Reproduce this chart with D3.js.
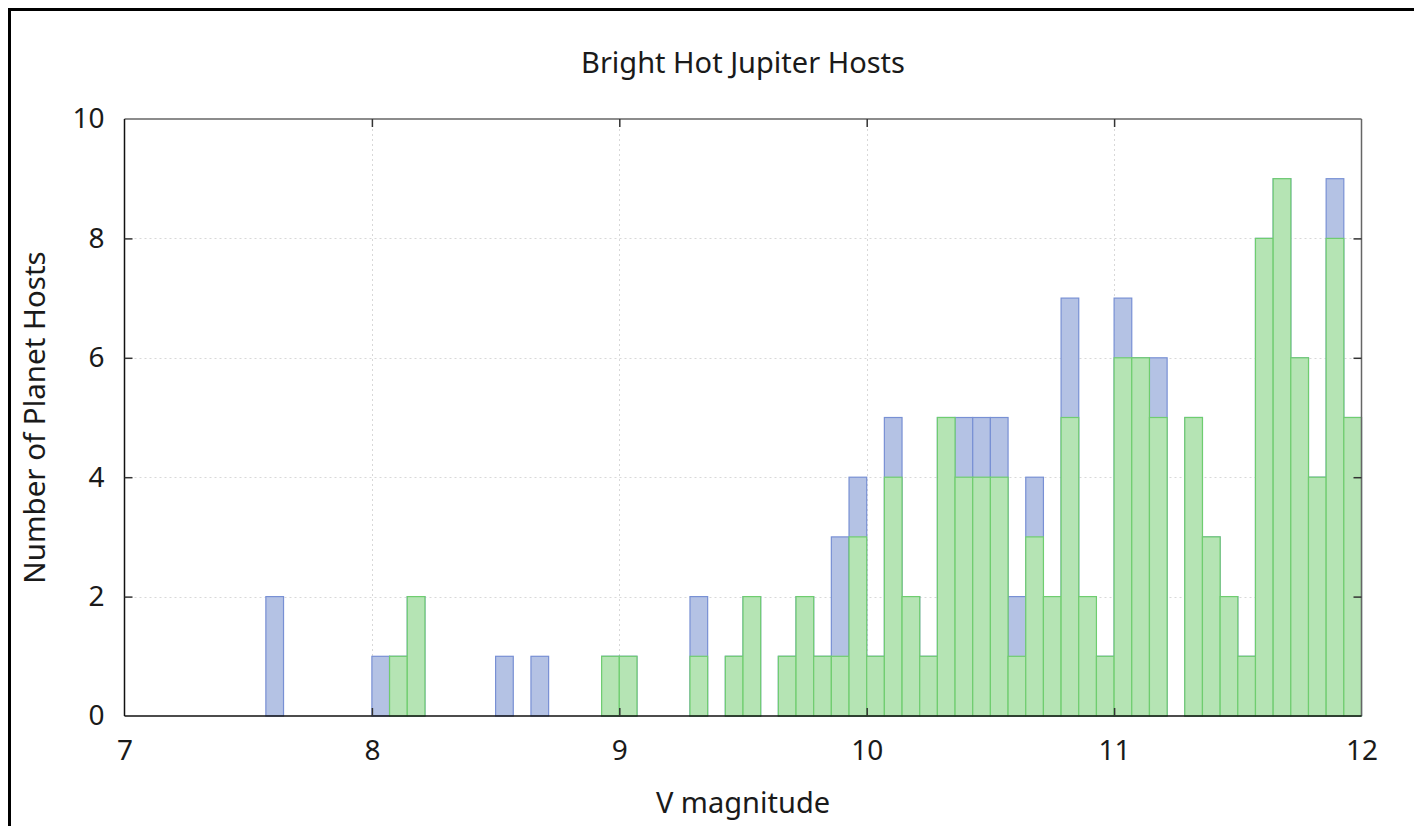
<!DOCTYPE html>
<html>
<head>
<meta charset="utf-8">
<script src="https://cdn.jsdelivr.net/npm/d3@7"></script>
<style>
  html, body { margin: 0; padding: 0; background: #fff; }
  svg { display: block; }
  text { font-family: "Noto Sans", "Open Sans", sans-serif; fill: #1a1a1a; }
</style>
</head>
<body>
<svg id="chart" width="1414" height="826"></svg>
<script>
// Histogram bins: lower edge of each non-empty bin (V magnitude), width 1/14 mag
const binWidth = 1 / 14;
const binStart = [
  7.5714, 8.0, 8.0714, 8.1429, 8.5, 8.6429, 8.9286, 9.0, 9.2857, 9.4286,
  9.5, 9.6429, 9.7143, 9.7857, 9.8571, 9.9286, 10.0, 10.0714, 10.1429, 10.2143,
  10.2857, 10.3571, 10.4286, 10.5, 10.5714, 10.6429, 10.7143, 10.7857, 10.8571, 10.9286,
  11.0, 11.0714, 11.1429, 11.2857, 11.3571, 11.4286, 11.5, 11.5714, 11.6429, 11.7143,
  11.7857, 11.8571, 11.9286
];
// All hosts per bin (blue)
const allHosts = [
  2, 1, 1, 2, 1, 1, 1, 1, 2, 1,
  2, 1, 2, 1, 3, 4, 1, 5, 2, 1,
  5, 5, 5, 5, 2, 4, 2, 7, 2, 1,
  7, 6, 6, 5, 3, 2, 1, 8, 9, 6,
  4, 9, 5
];
// Subset of hosts per bin (green)
const subsetHosts = [
  0, 0, 1, 2, 0, 0, 1, 1, 1, 1,
  2, 1, 2, 1, 1, 3, 1, 4, 2, 1,
  5, 4, 4, 4, 1, 3, 2, 5, 2, 1,
  6, 6, 5, 5, 3, 2, 1, 8, 9, 6,
  4, 8, 5
];
const xTicks = [7, 8, 9, 10, 11, 12];
const yTicks = [0, 2, 4, 6, 8, 10];

const svg = d3.select("#chart");
const W = 1414, H = 826;
const pLeft = 124.5, pRight = 1361.5, pTop = 119, pBottom = 716;

// outer frame
svg.append("rect")
  .attr("x", 9.5).attr("y", 9.5)
  .attr("width", W + 20).attr("height", H + 20)
  .attr("fill", "none").attr("stroke", "#000").attr("stroke-width", 3);

const x = d3.scaleLinear().domain([7, 12]).range([pLeft, pRight]);
const y = d3.scaleLinear().domain([0, 10]).range([pBottom, pTop]);

// grid
const grid = svg.append("g").attr("stroke", "#d8d8d8").attr("stroke-width", 1)
  .attr("stroke-dasharray", "2,3");
grid.selectAll("line.gx").data(xTicks.slice(1, -1)).join("line")
  .attr("x1", d => Math.round(x(d)) + 0.5).attr("x2", d => Math.round(x(d)) + 0.5)
  .attr("y1", pTop).attr("y2", pBottom);
grid.selectAll("line.gy").data(yTicks.slice(1, -1)).join("line")
  .attr("x1", pLeft).attr("x2", pRight)
  .attr("y1", d => Math.round(y(d)) + 0.5).attr("y2", d => Math.round(y(d)) + 0.5);

const bins = binStart.map((s, i) => ({ s, all: allHosts[i], sub: subsetHosts[i] }));

// blue bars: all hosts
svg.append("g").selectAll("rect").data(bins.filter(d => d.all > 0)).join("rect")
  .attr("x", d => x(d.s))
  .attr("width", d => x(d.s + binWidth) - x(d.s))
  .attr("y", d => y(d.all))
  .attr("height", d => y(0) - y(d.all))
  .attr("fill", "#b4c2e4")
  .attr("stroke", "#7890d4").attr("stroke-width", 1.2);

// green bars: subset
svg.append("g").selectAll("rect").data(bins.filter(d => d.sub > 0)).join("rect")
  .attr("x", d => x(d.s))
  .attr("width", d => x(d.s + binWidth) - x(d.s))
  .attr("y", d => y(d.sub))
  .attr("height", d => y(0) - y(d.sub))
  .attr("fill", "#b5e4b4")
  .attr("stroke", "#6fcd6f").attr("stroke-width", 1.2);

// plot border
svg.append("line").attr("x1", pLeft).attr("x2", pRight).attr("y1", pTop).attr("y2", pTop)
  .attr("stroke", "#666").attr("stroke-width", 1.5);
svg.append("line").attr("x1", pRight).attr("x2", pRight).attr("y1", pTop).attr("y2", pBottom)
  .attr("stroke", "#666").attr("stroke-width", 1.5);
svg.append("line").attr("x1", pLeft).attr("x2", pLeft).attr("y1", pTop).attr("y2", pBottom)
  .attr("stroke", "#111").attr("stroke-width", 1.5);
svg.append("line").attr("x1", pLeft).attr("x2", pRight).attr("y1", pBottom).attr("y2", pBottom)
  .attr("stroke", "#111").attr("stroke-width", 1.5);

// axes with inward ticks
const tickLen = 8;
const xAxisB = d3.axisBottom(x).tickValues(xTicks).tickSize(-tickLen).tickPadding(24).tickFormat(d3.format("d"));
const gxB = svg.append("g").attr("transform", `translate(0,${pBottom})`).call(xAxisB);
const xAxisT = d3.axisTop(x).tickValues(xTicks).tickSize(-tickLen).tickFormat("");
const gxT = svg.append("g").attr("transform", `translate(0,${pTop})`).call(xAxisT);
const yAxisL = d3.axisLeft(y).tickValues(yTicks).tickSize(-tickLen).tickPadding(20).tickFormat(d3.format("d"));
const gyL = svg.append("g").attr("transform", `translate(${pLeft},0)`).call(yAxisL);
const yAxisR = d3.axisRight(y).tickValues(yTicks).tickSize(-tickLen).tickFormat("");
const gyR = svg.append("g").attr("transform", `translate(${pRight},0)`).call(yAxisR);

[gxB, gxT, gyL, gyR].forEach(g => {
  g.select(".domain").remove();
  g.selectAll(".tick line").attr("stroke", "#333").attr("stroke-width", 1.5);
  g.selectAll("text").style("font-family", '"Noto Sans", "Open Sans", sans-serif')
    .style("font-size", "28px").attr("fill", "#1a1a1a");
});
gxB.selectAll(".tick").filter(d => d === 7 || d === 12).select("line").remove();
gxT.selectAll(".tick").filter(d => d === 7 || d === 12).select("line").remove();
gyL.selectAll(".tick").filter(d => d === 0 || d === 10).select("line").remove();
gyR.selectAll(".tick").filter(d => d === 0 || d === 10).select("line").remove();

// title and axis labels
svg.append("text").attr("x", (pLeft + pRight) / 2).attr("y", 73)
  .attr("text-anchor", "middle").style("font-size", "29px")
  .text("Bright Hot Jupiter Hosts");
svg.append("text").attr("x", (pLeft + pRight) / 2).attr("y", 813)
  .attr("text-anchor", "middle").style("font-size", "29px")
  .text("V magnitude");
svg.append("text")
  .attr("transform", `translate(45,${(pTop + pBottom) / 2}) rotate(-90)`)
  .attr("text-anchor", "middle").style("font-size", "29.5px")
  .text("Number of Planet Hosts");
</script>
</body>
</html>
